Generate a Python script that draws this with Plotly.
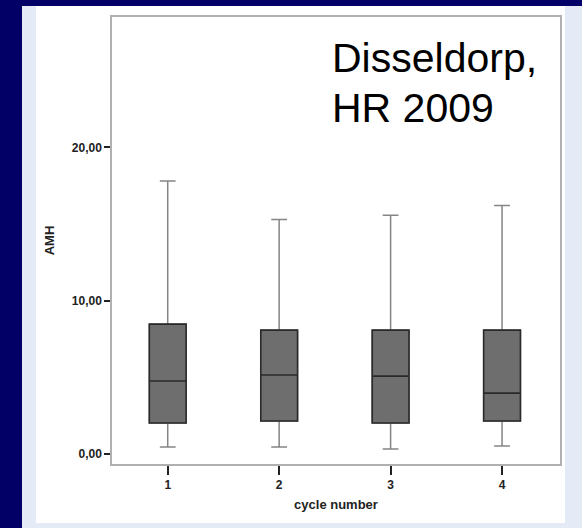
import plotly.graph_objects as go

# ---- data ----
categories = ["1", "2", "3", "4"]
lower_whisker = [0.46, 0.46, 0.33, 0.52]
q1_vals = [2.02, 2.15, 2.02, 2.15]
median_vals = [4.76, 5.15, 5.08, 3.97]
q3_vals = [8.47, 8.08, 8.08, 8.08]
upper_whisker = [17.8, 15.3, 15.57, 16.2]
y_tick_vals = [0, 10, 20]
y_tick_text = ["0,00", "10,00", "20,00"]

W, H = 582, 528
L, R, T, B = 112, 22, 17, 64
pw, ph = W - L - R, H - T - B


def px_x(px):
    return (px - L) / pw


def px_y(py):
    return (H - B - py) / ph


fig = go.Figure()

# whiskers (light gray lines)
fig.add_trace(go.Box(
    x=categories, q1=q1_vals, median=median_vals, q3=q3_vals,
    lowerfence=lower_whisker, upperfence=upper_whisker,
    width=0.33, whiskerwidth=0.43,
    fillcolor="#6e6e6e", line=dict(color="#858585", width=1.5),
    boxpoints=False, showlegend=False, hoverinfo="skip",
))
# boxes with dark outline
fig.add_trace(go.Box(
    x=categories, q1=q1_vals, median=median_vals, q3=q3_vals,
    lowerfence=q1_vals, upperfence=q3_vals,
    width=0.33, whiskerwidth=0,
    fillcolor="#6e6e6e", line=dict(color="#2a2a2a", width=1.6),
    boxpoints=False, showlegend=False,
))

shapes = [
    # white slide panel
    dict(type="rect", xref="paper", yref="paper",
         x0=px_x(36), x1=px_x(565), y0=px_y(523), y1=px_y(6),
         fillcolor="white", line=dict(width=0), layer="below"),
    # navy left bar
    dict(type="rect", xref="paper", yref="paper",
         x0=px_x(0), x1=px_x(22), y0=px_y(528), y1=px_y(0),
         fillcolor="#020066", line=dict(width=0), layer="below"),
    # navy top bar
    dict(type="rect", xref="paper", yref="paper",
         x0=px_x(0), x1=px_x(582), y0=px_y(6), y1=px_y(0),
         fillcolor="#020066", line=dict(width=0), layer="below"),
]

tickfont = dict(family="Liberation Sans, Arial, sans-serif", size=12,
                color="#222222", weight="bold")

fig.update_layout(
    width=W, height=H,
    margin=dict(l=L, r=R, t=T, b=B, pad=0),
    paper_bgcolor="#e5ebf6",
    plot_bgcolor="white",
    boxmode="overlay",
    shapes=shapes,
    xaxis=dict(
        type="category", range=[-0.5, 3.52],
        showline=True, mirror=True, linecolor="#b0b0b0", linewidth=1.5,
        showgrid=False, zeroline=False,
        ticks="outside", ticklen=9, tickwidth=2, tickcolor="#222222",
        tickfont=tickfont,
        title=dict(text="cycle number", standoff=9,
                   font=dict(family="Liberation Sans, Arial, sans-serif",
                             size=13, color="#222222", weight="bold")),
    ),
    yaxis=dict(
        range=[-0.65, 28.5],
        showline=True, mirror=True, linecolor="#b0b0b0", linewidth=1.5,
        showgrid=False, zeroline=False,
        tickvals=y_tick_vals, ticktext=y_tick_text,
        ticks="outside", ticklen=6, tickwidth=2, tickcolor="#222222",
        tickfont=tickfont,
        title=dict(text="AMH", standoff=14,
                   font=dict(family="Liberation Sans, Arial, sans-serif",
                             size=13, color="#222222", weight="bold")),
    ),
    annotations=[
        dict(text="Disseldorp,", xref="paper", yref="paper",
             x=px_x(330), y=px_y(58), xanchor="left", yanchor="middle",
             showarrow=False,
             font=dict(family="Liberation Sans, Arial, sans-serif",
                       size=41, color="black")),
        dict(text="HR 2009", xref="paper", yref="paper",
             x=px_x(330), y=px_y(108), xanchor="left", yanchor="middle",
             showarrow=False,
             font=dict(family="Liberation Sans, Arial, sans-serif",
                       size=41, color="black")),
    ],
)

fig.write_html(
    "out.html",
    config={"displayModeBar": False},
    post_script="document.documentElement.style.margin='0';"
                "document.body.style.margin='0';"
                "document.body.style.padding='0';"
                "document.body.style.overflow='hidden';"
                "document.body.style.background='#e5ebf6';",
)
